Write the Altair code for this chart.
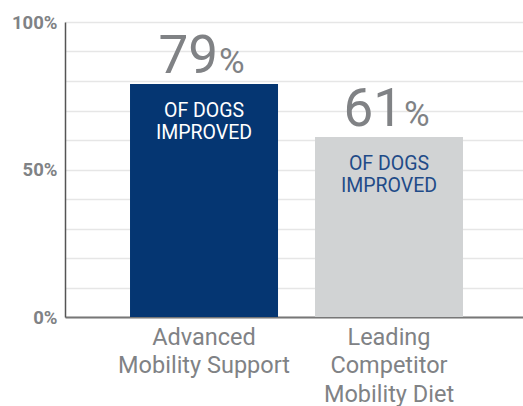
import altair as alt
import pandas as pd

categories = ["Advanced Mobility Support", "Leading Competitor Mobility Diet"]
label_lines = ["Advanced|Mobility Support", "Leading|Competitor|Mobility Diet"]
values = [79, 61]
bar_colors = ["#053672", "#d1d3d4"]
inner_text_colors = ["#ffffff", "#1f4b88"]
inner_line1 = ["OF DOGS", "OF DOGS"]
inner_line2 = ["IMPROVED", "IMPROVED"]

df = pd.DataFrame({
    "cat": categories,
    "lab": label_lines,
    "val": values,
    "num": [str(v) for v in values],
    "bar_color": bar_colors,
    "txt_color": inner_text_colors,
    "l1": inner_line1,
    "l2": inner_line2,
})

FONT = "Roboto"

x_scale = alt.Scale(paddingInner=0.2, paddingOuter=0.338, align=0.52)
y_scale = alt.Scale(domain=[0, 100], nice=False)

x_axis = alt.Axis(title=None, labelAngle=0, ticks=False,
                  labelExpr="split(indexof(datum.label,'Advanced')>=0 ? 'Advanced|Mobility Support' : 'Leading|Competitor|Mobility Diet', '|')",
                  labelFont=FONT, labelFontSize=23.5, labelColor="#808285",
                  labelLineHeight=28.5, labelPadding=8, labelBaseline="top",
                  domainColor="#777777", domainWidth=2, labelLimit=300)
y_axis = alt.Axis(title=None, values=list(range(0, 101, 10)),
                  labelExpr="datum.value % 50 == 0 ? datum.value + '%' : ''",
                  ticks=False, grid=True, gridColor="#e6e6e6", gridWidth=1.5,
                  domainColor="#555555", domainWidth=1.5,
                  labelFont=FONT, labelFontSize=18.5, labelFontWeight="bold",
                  labelColor="#808285", labelPadding=8)

xt = alt.X("cat:N", sort=categories, scale=x_scale, axis=x_axis)
yt = alt.Y("val:Q", scale=y_scale, axis=y_axis)

bars = alt.Chart(df).mark_bar(size=148).encode(
    x=xt, y=yt,
    color=alt.Color("bar_color:N", scale=None),
)

big_num = alt.Chart(df).mark_text(font=FONT, fontSize=53, align="right", baseline="alphabetic",
                                  dx=14, dy=-11, color="#808285").encode(
    x=xt, y=yt, text="num:N")

pct = alt.Chart(df).mark_text(font=FONT, fontSize=35, align="left", baseline="alphabetic",
                              dx=15, dy=-11, color="#808285").encode(
    x=xt, y=yt, text=alt.value("%"))

line1 = alt.Chart(df).mark_text(font=FONT, fontSize=19.5, baseline="alphabetic", dy=33).encode(
    x=xt, y=yt, text="l1:N",
    color=alt.Color("txt_color:N", scale=None))

line2 = alt.Chart(df).mark_text(font=FONT, fontSize=19.5, baseline="alphabetic", dy=55).encode(
    x=xt, y=yt, text="l2:N",
    color=alt.Color("txt_color:N", scale=None))

chart = alt.layer(bars, big_num, pct, line1, line2).properties(
    width=458, height=295,
    autosize=alt.AutoSizeParams(type="none"),
    padding={"left": 65, "top": 22, "right": 0, "bottom": 89},
    background="#ffffff",
).configure_view(stroke=None)

chart.save("out.html", embed_options={"renderer": "svg", "actions": False})
